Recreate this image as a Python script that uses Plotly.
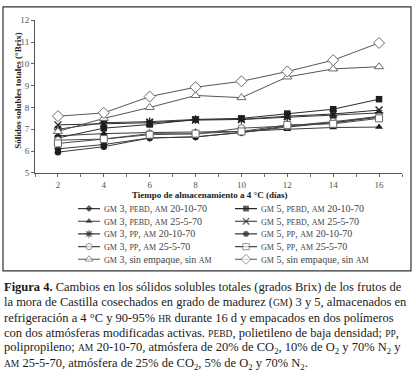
import plotly.graph_objects as go

# ---------------- data ----------------
days = [2, 4, 6, 8, 10, 12, 14, 16]
gm3_pebd_201070 = [6.10, 6.30, 6.60, 6.65, 6.85, 7.10, 7.30, 7.55]
gm5_pebd_201070 = [6.60, 7.05, 7.22, 7.45, 7.50, 7.72, 7.92, 8.38]
gm3_pebd_25570 = [6.70, 6.80, 6.85, 6.88, 6.90, 7.00, 7.08, 7.10]
gm5_pebd_25570 = [7.20, 7.25, 7.30, 7.42, 7.45, 7.60, 7.70, 7.88]
gm3_pp_201070 = [7.00, 7.30, 7.35, 7.45, 7.45, 7.55, 7.62, 7.75]
gm5_pp_201070 = [5.95, 6.20, 6.60, 6.65, 6.85, 7.15, 7.30, 7.60]
gm3_pp_25570 = [6.50, 6.55, 6.80, 6.78, 7.05, 7.15, 7.35, 7.58]
gm5_pp_25570 = [6.35, 6.55, 6.75, 6.80, 6.90, 7.20, 7.25, 7.50]
gm3_sin = [6.90, 7.50, 8.00, 8.55, 8.45, 9.40, 9.77, 9.87]
gm5_sin = [7.60, 7.75, 8.50, 8.93, 9.20, 9.65, 10.17, 10.96]

x_ticks = [2, 4, 6, 8, 10, 12, 14, 16]
y_ticks = [5, 6, 7, 8, 9, 10, 11, 12]


def sc(s, size=8):
    return "<span style='font-size:%spx'>%s</span>" % (size, s)


labels = [
    sc("GM") + " 3, " + sc("PEBD") + ", " + sc("AM") + " 20-10-70",
    sc("GM") + " 5, " + sc("PEBD") + ", " + sc("AM") + " 20-10-70",
    sc("GM") + " 3, " + sc("PEBD") + ", " + sc("AM") + " 25-5-70",
    sc("GM") + " 5, " + sc("PEBD") + ", " + sc("AM") + " 25-5-70",
    sc("GM") + " 3, " + sc("PP") + ", " + sc("AM") + " 20-10-70",
    sc("GM") + " 5, " + sc("PP") + ", " + sc("AM") + " 20-10-70",
    sc("GM") + " 3, " + sc("PP") + ", " + sc("AM") + " 25-5-70",
    sc("GM") + " 5, " + sc("PP") + ", " + sc("AM") + " 25-5-70",
    sc("GM") + " 3, sin empaque, sin " + sc("AM"),
    sc("GM") + " 5, sin empaque, sin " + sc("AM"),
]
values = [gm3_pebd_201070, gm5_pebd_201070, gm3_pebd_25570, gm5_pebd_25570,
          gm3_pp_201070, gm5_pp_201070, gm3_pp_25570, gm5_pp_25570,
          gm3_sin, gm5_sin]

# ---------------- styles ----------------
DARK = "#1e1e1e"
OPEN = "#6a6a6a"
styles = [
    dict(symbol="diamond", size=6, color=DARK, line=dict(color=DARK, width=0)),
    dict(symbol="square", size=6.5, color=DARK, line=dict(color=DARK, width=0)),
    dict(symbol="triangle-up", size=7, color=DARK, line=dict(color=DARK, width=0)),
    dict(symbol="x-thin-open", size=7, color=DARK, line=dict(color=DARK, width=1.3)),
    dict(symbol="asterisk-open", size=7, color=DARK, line=dict(color=DARK, width=1.2)),
    dict(symbol="circle", size=6.5, color=DARK, line=dict(color=DARK, width=0)),
    dict(symbol="circle", size=7, color="white", line=dict(color=OPEN, width=1)),
    dict(symbol="square", size=7, color="white", line=dict(color=OPEN, width=1)),
    dict(symbol="triangle-up", size=8, color="white", line=dict(color=OPEN, width=1)),
    dict(symbol="diamond", size=8.5, color="white", line=dict(color=OPEN, width=1)),
]
line_colors = ["#3a3a3a", "#2a2a2a", "#3a3a3a", "#2a2a2a", "#3a3a3a",
               "#3a3a3a", "#4a4a4a", "#4a4a4a", "#555555", "#555555"]

W, H = 416, 387
FONT = "Liberation Serif"

# plot area in pixels (layout)
PL, PR, PT, PB = 35, 402, 15.7, 172.3
# legend layout (pixels)
LEG_COL_X = [89, 246]
LEG_TOP, LEG_ROW = 209, 13.0

fig = go.Figure()

for i, (lab, vals, st, lc) in enumerate(zip(labels, values, styles, line_colors)):
    fig.add_trace(go.Scatter(
        x=days, y=vals, mode="lines+markers", name=lab,
        line=dict(color=lc, width=1), marker=st, showlegend=False,
        xaxis="x", yaxis="y", cliponaxis=False))

# hand-built legend on an auxiliary (invisible) axis pair, in row/col units
for i, (lab, st, lc) in enumerate(zip(labels, styles, line_colors)):
    row, col = i // 2, i % 2
    cx = LEG_COL_X[col]
    fig.add_trace(go.Scatter(
        x=[cx - 11, cx, cx + 11], y=[row, row, row], mode="lines+markers",
        line=dict(color=lc, width=1.2),
        marker=dict(symbol=st["symbol"], size=[0, st["size"] * 0.9, 0], color=st["color"],
                    line=st["line"]),
        showlegend=False, xaxis="x2", yaxis="y2", cliponaxis=False, hoverinfo="skip"))

annotations = []
for i, lab in enumerate(labels):
    row, col = i // 2, i % 2
    annotations.append(dict(
        x=LEG_COL_X[col] + 13, y=row, xref="x2", yref="y2", text=lab,
        showarrow=False, xanchor="left", yanchor="middle",
        font=dict(family=FONT, size=10, color="#444")))

# axis titles
annotations.append(dict(
    x=209 / W, y=(H - 195) / H, xref="paper", yref="paper",
    text="<b>Tiempo de almacenamiento a 4 °C (días)</b>", showarrow=False,
    xanchor="center", yanchor="middle", font=dict(family=FONT, size=9, color="#222")))
annotations.append(dict(
    x=18 / W, y=(H - 88) / H, xref="paper", yref="paper",
    text="<b>Sólidos solubles totales (°Brix)</b>", showarrow=False, textangle=-90,
    xanchor="center", yanchor="middle", font=dict(family=FONT, size=9, color="#222")))

# caption
caption = [
    "<b>Figura 4.</b> Cambios en los sólidos solubles totales (grados Brix) de los frutos de",
    "la mora de Castilla cosechados en grado de madurez (" + sc("GM", 9.5) + ") 3 y 5, almacenados en",
    "refrigeración a 4 °C y 90-95% " + sc("HR", 9.5) + " durante 16 d y empacados en dos polímeros",
    "con dos atmósferas modificadas activas. " + sc("PEBD", 9.5) + ", polietileno de baja densidad; " + sc("PP", 9.5) + ",",
    "polipropileno; " + sc("AM", 9.5) + " 20-10-70, atmósfera de 20% de CO<sub>2</sub>, 10% de O<sub>2</sub> y 70% N<sub>2</sub> y",
    sc("AM", 9.5) + " 25-5-70, atmósfera de 25% de CO<sub>2</sub>, 5% de O<sub>2</sub> y 70% N<sub>2</sub>.",
]
CAP_TOP, CAP_STEP = 289, 15.9
for k, line in enumerate(caption):
    annotations.append(dict(
        x=2 / W, y=(H - (CAP_TOP + k * CAP_STEP)) / H, xref="paper", yref="paper",
        text=line, showarrow=False, xanchor="left", yanchor="middle",
        font=dict(family=FONT, size=12.5, color="#1a1a1a")))

fig.update_layout(
    width=W, height=H, margin=dict(l=0, r=0, t=0, b=0),
    paper_bgcolor="white", plot_bgcolor="rgba(0,0,0,0)",
    showlegend=False,
    font=dict(family=FONT, color="#444"),
    xaxis=dict(domain=[PL / W, PR / W], range=[1, 17], anchor="y",
               tickvals=x_ticks, ticks="outside", ticklen=3, tickcolor="#666",
               showline=True, linecolor="#555", linewidth=1, showgrid=False,
               zeroline=False, tickfont=dict(family=FONT, size=9, color="#555"),
               minor=dict(dtick=1, ticks="outside", ticklen=3, tickcolor="#777",
                          showgrid=False)),
    yaxis=dict(domain=[(H - PB) / H, (H - PT) / H], range=[5, 12], anchor="x",
               tickvals=y_ticks, ticks="outside", ticklen=3, tickcolor="#666",
               showline=True, linecolor="#555", linewidth=1, showgrid=False,
               zeroline=False, tickfont=dict(family=FONT, size=9, color="#555")),
    xaxis2=dict(domain=[0, 1], range=[0, W], anchor="y2", visible=False,
                fixedrange=True),
    yaxis2=dict(domain=[(H - (LEG_TOP + 4.5 * LEG_ROW)) / H, (H - (LEG_TOP - 0.5 * LEG_ROW)) / H],
                range=[4.5, -0.5], anchor="x2", visible=False, fixedrange=True),
    annotations=annotations,
    shapes=[dict(type="rect", xref="paper", yref="paper",
                 x0=3 / W, x1=411 / W, y0=(H - 273) / H, y1=(H - 2) / H,
                 line=dict(color="#333", width=1.2), fillcolor="rgba(0,0,0,0)",
                 layer="below")],
)

fig.write_html("out.html", config={"displayModeBar": False},
               post_script="document.body.style.margin='0';document.body.style.overflow='hidden';")
